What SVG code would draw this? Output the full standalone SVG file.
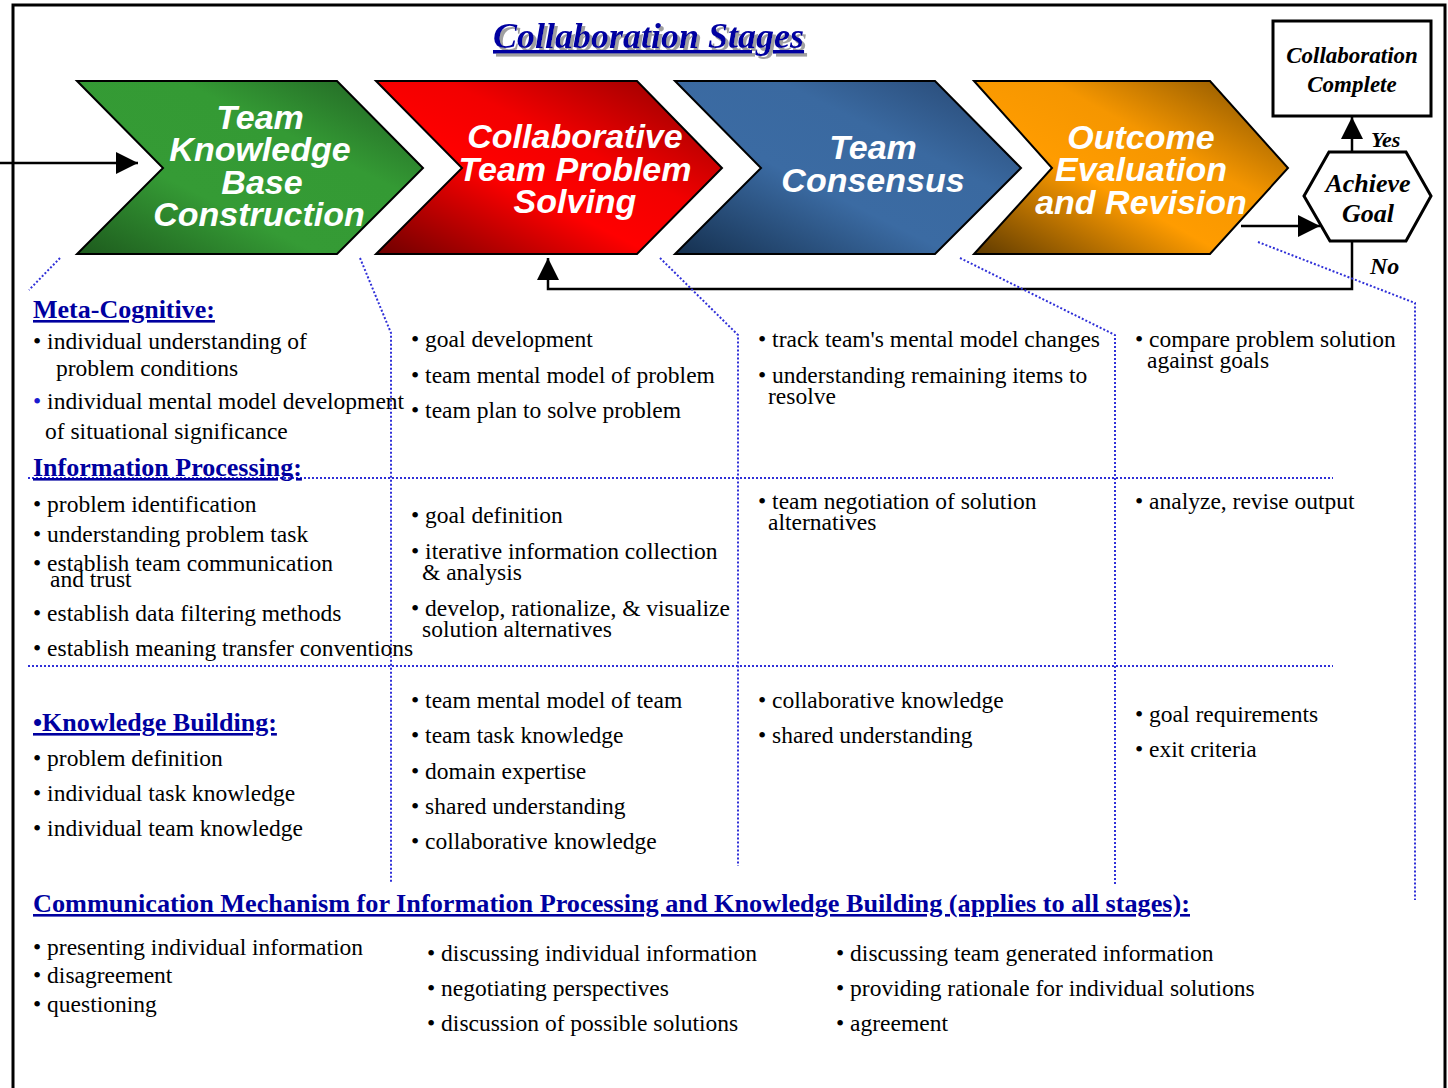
<svg xmlns="http://www.w3.org/2000/svg" width="1448" height="1088" viewBox="0 0 1448 1088">
<style>
.frame{fill:none;stroke:#000;stroke-width:3}
.chev{stroke:#000;stroke-width:2}
.ctext{font-family:"Liberation Sans",Arial,sans-serif;font-weight:bold;font-style:italic;font-size:34px;fill:#fff;text-anchor:middle}
.bi{font-family:"Liberation Serif","Times New Roman",serif;font-weight:bold;font-style:italic;fill:#000}
.conn{fill:none;stroke:#000;stroke-width:2.5}
.dot{fill:none;stroke:#3030d8;stroke-width:2;stroke-dasharray:2 2}
.body{font-family:"Liberation Serif","Times New Roman",serif;font-size:23.5px;fill:#000}
.head{font-family:"Liberation Serif","Times New Roman",serif;font-size:26px;font-weight:bold;fill:#0000a0;text-decoration:underline}
</style>
<defs>
<filter id="shadow" x="-5%" y="-20%" width="110%" height="140%">
<feDropShadow dx="3" dy="3" stdDeviation="0.6" flood-color="#a0a0a0" flood-opacity="1"/>
</filter>
<marker id="ah" markerUnits="userSpaceOnUse" markerWidth="22" markerHeight="22" refX="22" refY="11" orient="auto" viewBox="0 0 22 22">
<path d="M0,0 L22,11 L0,22 z" fill="#000"/>
</marker>
<linearGradient id="gG" x1="0" y1="1" x2="1" y2="0">
<stop offset="0" stop-color="#1d5a1d"/><stop offset="0.35" stop-color="#359b35"/><stop offset="0.65" stop-color="#349a34"/><stop offset="1" stop-color="#1f5c22"/>
</linearGradient>
<linearGradient id="gR" x1="0" y1="1" x2="1" y2="0">
<stop offset="0" stop-color="#6e0000"/><stop offset="0.4" stop-color="#ff0000"/><stop offset="0.6" stop-color="#f20000"/><stop offset="1" stop-color="#8a0000"/>
</linearGradient>
<linearGradient id="gB" x1="0" y1="1" x2="1" y2="0">
<stop offset="0" stop-color="#15304f"/><stop offset="0.4" stop-color="#3b6ba3"/><stop offset="0.65" stop-color="#3a69a0"/><stop offset="1" stop-color="#25446e"/>
</linearGradient>
<linearGradient id="gO" x1="0" y1="1" x2="1" y2="0">
<stop offset="0" stop-color="#5e3a00"/><stop offset="0.4" stop-color="#ff9c00"/><stop offset="0.62" stop-color="#f59600"/><stop offset="1" stop-color="#7a4c00"/>
</linearGradient>
</defs>
<rect width="1448" height="1088" fill="#fff"/>
<path class="frame" d="M13,1088 L13,5 L1445,5 L1445,1088"/>

<text x="493" y="48" font-family="Liberation Serif,serif" font-weight="bold" font-style="italic" font-size="36" fill="#0000a0" text-decoration="underline" filter="url(#shadow)">Collaboration Stages</text>

<g id="connectors">
<line class="conn" x1="0" y1="163" x2="138" y2="163" marker-end="url(#ah)"/>
<line class="conn" x1="1241" y1="226" x2="1320" y2="226" marker-end="url(#ah)"/>
<line class="conn" x1="1352" y1="152" x2="1352" y2="117" marker-end="url(#ah)"/>
<polyline class="conn" points="1352,241 1352,289 548,289 548,258" marker-end="url(#ah)"/>
</g>

<g id="stage1">
<polygon class="chev" fill="url(#gG)" points="77,81 337,81 423,168 337,254 77,254 163,168"/>
<text class="ctext"><tspan x="260" y="129">Team</tspan><tspan x="260" y="161">Knowledge</tspan><tspan x="262" y="194">Base</tspan><tspan x="259" y="226">Construction</tspan></text>
</g>
<g id="stage2">
<polygon class="chev" fill="url(#gR)" points="376,81 637,81 722,168 637,254 376,254 462,168"/>
<text class="ctext"><tspan x="575" y="148">Collaborative</tspan><tspan x="575" y="181">Team Problem</tspan><tspan x="575" y="213">Solving</tspan></text>
</g>
<g id="stage3">
<polygon class="chev" fill="url(#gB)" points="675,81 935,81 1021,168 935,254 675,254 761,168"/>
<text class="ctext"><tspan x="873" y="159">Team</tspan><tspan x="873" y="192">Consensus</tspan></text>
</g>
<g id="stage4">
<polygon class="chev" fill="url(#gO)" points="974,81 1210,81 1288,168 1210,254 974,254 1052,168"/>
<text class="ctext"><tspan x="1141" y="149">Outcome</tspan><tspan x="1141" y="181">Evaluation</tspan><tspan x="1141" y="214">and Revision</tspan></text>
</g>

<g id="complete">
<rect x="1273" y="21" width="158" height="95" fill="#fff" stroke="#000" stroke-width="3"/>
<text class="bi" font-size="23" text-anchor="middle"><tspan x="1352" y="63">Collaboration</tspan><tspan x="1352" y="92">Complete</tspan></text>
</g>
<g id="goal">
<polygon points="1329,152 1406,152 1431,196 1406,241 1330,241 1304,196" fill="#fff" stroke="#000" stroke-width="3"/>
<text class="bi" font-size="26" text-anchor="middle"><tspan x="1368" y="192">Achieve</tspan><tspan x="1368" y="222">Goal</tspan></text>
</g>
<text class="bi" font-size="22" x="1371" y="147">Yes</text>
<text class="bi" font-size="24" x="1370" y="274">No</text>

<g id="grid">
<polyline class="dot" points="60,258 29,290"/>
<polyline class="dot" points="360,258 391,333 391,882"/>
<polyline class="dot" points="660,258 738,335 738,866"/>
<polyline class="dot" points="960,258 1115,335 1115,885"/>
<polyline class="dot" points="1258,242 1415,303 1415,900"/>
<line class="dot" x1="28" y1="478" x2="1333" y2="478"/>
<line class="dot" x1="28" y1="666" x2="1333" y2="666"/>
</g>

<g id="col1">
<text class="head" x="33" y="318">Meta-Cognitive:</text>
<text class="body" x="33" y="349">• individual understanding of</text>
<text class="body" x="56" y="376">problem conditions</text>
<text class="body" x="33" y="409"><tspan fill="#1a1ad0">•</tspan> individual mental model development</text>
<text class="body" x="45" y="439">of situational significance</text>
<text class="head" x="33" y="476">Information Processing:</text>
<text class="body" x="33" y="512">• problem identification</text>
<text class="body" x="33" y="542">• understanding problem task</text>
<text class="body" x="33" y="571">• establish team communication</text>
<text class="body" x="50" y="587">and trust</text>
<text class="body" x="33" y="621">• establish data filtering methods</text>
<text class="body" x="33" y="656">• establish meaning transfer conventions</text>
<text class="head" x="33" y="731">•Knowledge Building:</text>
<text class="body" x="33" y="766">• problem definition</text>
<text class="body" x="33" y="801">• individual task knowledge</text>
<text class="body" x="33" y="836">• individual team knowledge</text>
</g>

<g id="col2">
<text class="body" x="411" y="347">• goal development</text>
<text class="body" x="411" y="383">• team mental model of problem</text>
<text class="body" x="411" y="418">• team plan to solve problem</text>
<text class="body" x="411" y="523">• goal definition</text>
<text class="body" x="411" y="559">• iterative information collection</text>
<text class="body" x="422" y="580">&amp; analysis</text>
<text class="body" x="411" y="616">• develop, rationalize, &amp; visualize</text>
<text class="body" x="422" y="637">solution alternatives</text>
<text class="body" x="411" y="708">• team mental model of team</text>
<text class="body" x="411" y="743">• team task knowledge</text>
<text class="body" x="411" y="779">• domain expertise</text>
<text class="body" x="411" y="814">• shared understanding</text>
<text class="body" x="411" y="849">• collaborative knowledge</text>
</g>

<g id="col3">
<text class="body" x="758" y="347">• track team's mental model changes</text>
<text class="body" x="758" y="383">• understanding remaining items to</text>
<text class="body" x="768" y="404">resolve</text>
<text class="body" x="758" y="509">• team negotiation of solution</text>
<text class="body" x="768" y="530">alternatives</text>
<text class="body" x="758" y="708">• collaborative knowledge</text>
<text class="body" x="758" y="743">• shared understanding</text>
</g>

<g id="col4">
<text class="body" x="1135" y="347">• compare problem solution</text>
<text class="body" x="1147" y="368">against goals</text>
<text class="body" x="1135" y="509">• analyze, revise output</text>
<text class="body" x="1135" y="722">• goal requirements</text>
<text class="body" x="1135" y="757">• exit criteria</text>
</g>

<g id="communication">
<text class="head" x="33" y="912" textLength="1157" lengthAdjust="spacingAndGlyphs">Communication Mechanism for Information Processing and Knowledge Building (applies to all stages):</text>
<text class="body" x="33" y="955">• presenting individual information</text>
<text class="body" x="33" y="983">• disagreement</text>
<text class="body" x="33" y="1012">• questioning</text>
<text class="body" x="427" y="961">• discussing individual information</text>
<text class="body" x="427" y="996">• negotiating perspectives</text>
<text class="body" x="427" y="1031">• discussion of possible solutions</text>
<text class="body" x="836" y="961">• discussing team generated information</text>
<text class="body" x="836" y="996">• providing rationale for individual solutions</text>
<text class="body" x="836" y="1031">• agreement</text>
</g>
</svg>
